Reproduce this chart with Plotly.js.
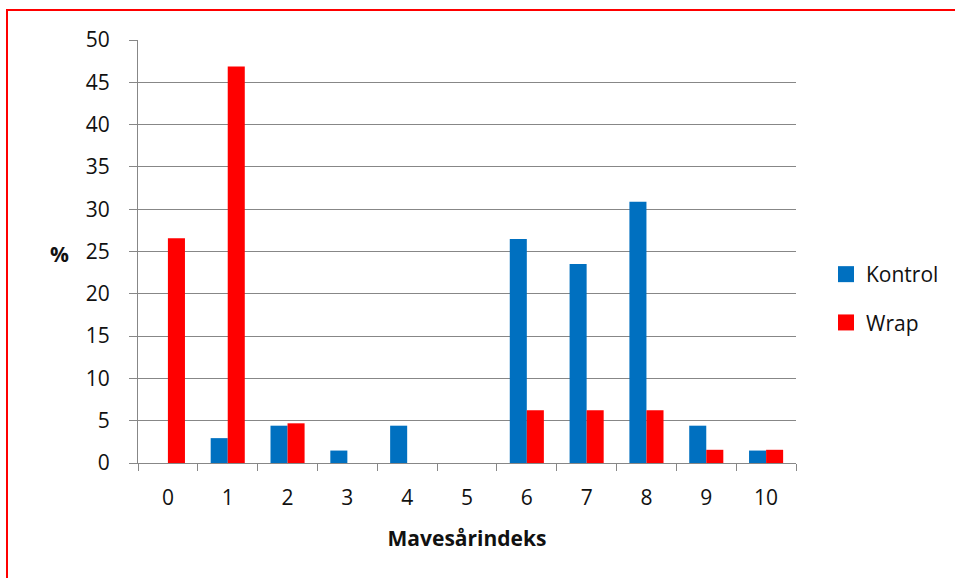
<!DOCTYPE html>
<html>
<head>
<meta charset="utf-8">
<script src="https://cdn.plot.ly/plotly-3.0.1.min.js"></script>
<style>
  html, body { margin: 0; padding: 0; background: #fff; }
  #wrap { position: relative; width: 955px; height: 578px; overflow: hidden; }
  #chart { width: 955px; height: 578px; }
  #frame { position: absolute; left: 6px; top: 9px; width: 2000px; height: 2000px;
           border-top: 2px solid #ff0000; border-left: 2px solid #ff0000; pointer-events: none; }
</style>
</head>
<body>
<div id="wrap">
  <div id="chart"></div>
  <div id="frame"></div>
</div>
<script>
const categories = ["0", "1", "2", "3", "4", "5", "6", "7", "8", "9", "10"];
const kontrol = [0, 2.94, 4.41, 1.47, 4.41, 0, 26.47, 23.53, 30.88, 4.41, 1.47];
const wrap = [26.56, 46.88, 4.69, 0, 0, 0, 6.25, 6.25, 6.25, 1.56, 1.56];
const seriesNames = ["Kontrol", "Wrap"];
const seriesColors = ["#0070C0", "#FF0000"];
const yTickVals = [0, 5, 10, 15, 20, 25, 30, 35, 40, 45, 50];

const FONT = "'Open Sans', 'Noto Sans', sans-serif";
const FS = 21;
const TXT = "#111111";
const gridColor = "#878787";

const traces = [
  { type: "bar", x: categories, y: kontrol, name: seriesNames[0], marker: { color: seriesColors[0] },
    showlegend: false, hoverinfo: "x+y" },
  { type: "bar", x: categories, y: wrap, name: seriesNames[1], marker: { color: seriesColors[1] },
    showlegend: false, hoverinfo: "x+y" },
  // legend entries
  { type: "scatter", mode: "markers", x: [null], y: [null], name: seriesNames[0], legendgroup: "k",
    marker: { symbol: "square", size: 16, color: seriesColors[0] } },
  { type: "scatter", mode: "markers", x: [null], y: [null], name: seriesNames[1], legendgroup: "w",
    marker: { symbol: "square", size: 16, color: seriesColors[1] } }
];

const layout = {
  width: 955, height: 578,
  margin: { l: 138, r: 158, t: 40, b: 115, pad: 0 },
  paper_bgcolor: "#ffffff", plot_bgcolor: "#ffffff",
  font: { family: FONT, size: FS, color: TXT },
  barmode: "group", bargap: 0.43, bargroupgap: 0,
  xaxis: {
    type: "category", categoryorder: "array", categoryarray: categories,
    tickson: "boundaries", ticks: "outside", ticklen: 7, tickcolor: gridColor, tickwidth: 1,
    showline: true, linecolor: gridColor, linewidth: 1, showgrid: false,
    ticklabelstandoff: 16,
    tickfont: { family: FONT, size: FS, color: TXT },
    title: { text: "<b>Mavesårindeks</b>", font: { family: FONT, size: FS, color: TXT }, standoff: 21 },
    fixedrange: true
  },
  yaxis: {
    range: [0, 50], tickvals: yTickVals, ticktext: yTickVals.map(String),
    ticks: "outside", ticklen: 8, tickcolor: gridColor, tickwidth: 1,
    showline: true, linecolor: gridColor, linewidth: 1,
    showgrid: true, gridcolor: gridColor, gridwidth: 1, zeroline: false,
    ticklabelstandoff: 15,
    tickfont: { family: FONT, size: FS, color: TXT },
    fixedrange: true
  },
  annotations: [
    { text: "<b>%</b>", xref: "paper", yref: "paper", x: (59 - 138) / 659, y: (463 - 254) / 423,
      xanchor: "center", yanchor: "middle", showarrow: false,
      font: { family: FONT, size: FS, color: TXT } }
  ],
  legend: {
    x: (826 - 138) / 659, xanchor: "left", y: (463 - 254) / 423, yanchor: "top",
    traceorder: "grouped", tracegroupgap: 18,
    font: { family: FONT, size: FS, color: TXT },
    bgcolor: "rgba(0,0,0,0)", borderwidth: 0
  },
  showlegend: true
};

Plotly.newPlot("chart", traces, layout, { displayModeBar: false, staticPlot: true });
</script>
</body>
</html>
